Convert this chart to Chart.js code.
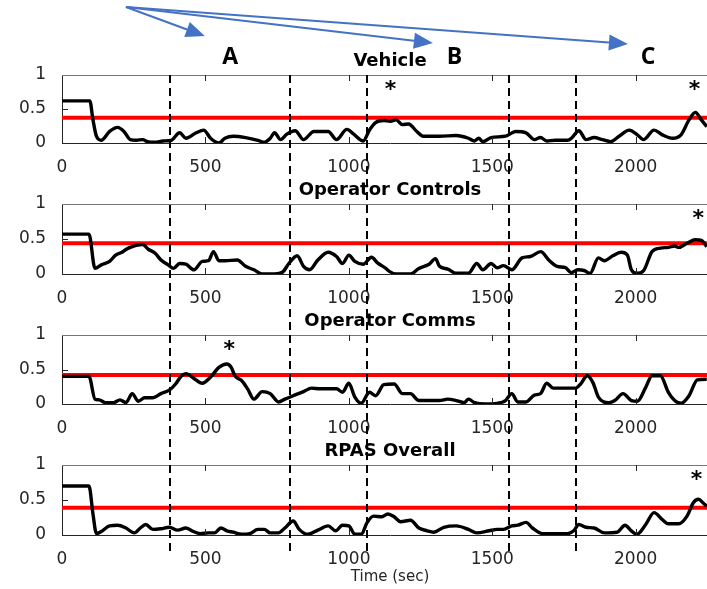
<!DOCTYPE html>
<html>
<head>
<meta charset="utf-8">
<script src="https://cdn.jsdelivr.net/npm/chart.js@4.4.1/dist/chart.umd.min.js"></script>
<style>
html, body { margin: 0; padding: 0; background: #fff; overflow: hidden; }
#fig { position: relative; width: 707px; height: 589px; overflow: hidden; }
#fig canvas { position: absolute; left: 0; }
</style>
</head>
<body>
<div id="fig">
  <canvas id="c0"></canvas>
  <canvas id="c1"></canvas>
  <canvas id="c2"></canvas>
  <canvas id="c3"></canvas>
</div>
<script>
// ---- data ----
const titles = ["Vehicle", "Operator Controls", "Operator Comms", "RPAS Overall"];

const vehicleTime = [0, 97, 108, 120, 137, 166, 194, 216, 238, 259, 281, 298, 324, 353, 381, 410, 432, 468, 494, 518, 547, 568, 597, 640, 683, 705, 726, 741, 762, 784, 813, 842, 878, 928, 957, 993, 1017, 1050, 1072, 1093, 1122, 1144, 1165, 1187, 1208, 1237, 1259, 1316, 1374, 1417, 1438, 1453, 1467, 1496, 1546, 1582, 1618, 1647, 1668, 1690, 1719, 1762, 1776, 1802, 1827, 1855, 1884, 1913, 1942, 1978, 2006, 2028, 2064, 2093, 2129, 2158, 2186, 2208, 2229, 2248];
const vehicleLevel = [0.62, 0.62, 0.34, 0.10, 0.04, 0.17, 0.23, 0.17, 0.05, 0.04, 0.05, 0.02, 0.01, 0.03, 0.04, 0.15, 0.07, 0.15, 0.19, 0.07, 0.0, 0.07, 0.10, 0.08, 0.04, 0.01, 0.07, 0.15, 0.05, 0.13, 0.18, 0.05, 0.17, 0.17, 0.05, 0.20, 0.13, 0.03, 0.19, 0.30, 0.33, 0.32, 0.34, 0.27, 0.28, 0.17, 0.10, 0.10, 0.11, 0.07, 0.03, 0.07, 0.02, 0.08, 0.10, 0.17, 0.15, 0.05, 0.08, 0.03, 0.04, 0.04, 0.07, 0.18, 0.05, 0.08, 0.05, 0.02, 0.10, 0.19, 0.12, 0.05, 0.19, 0.12, 0.07, 0.12, 0.34, 0.45, 0.34, 0.24];

const controlsTime = [0, 94, 115, 137, 166, 187, 209, 223, 238, 259, 281, 302, 324, 345, 370, 389, 410, 432, 460, 489, 511, 528, 547, 568, 611, 640, 669, 698, 741, 770, 791, 820, 842, 863, 892, 928, 957, 978, 1000, 1021, 1050, 1079, 1100, 1129, 1144, 1165, 1215, 1244, 1280, 1302, 1316, 1345, 1374, 1417, 1446, 1467, 1496, 1517, 1539, 1568, 1604, 1633, 1669, 1697, 1726, 1755, 1776, 1798, 1820, 1841, 1870, 1891, 1920, 1949, 1971, 1985, 2004, 2028, 2057, 2086, 2114, 2136, 2150, 2179, 2208, 2229, 2248];
const controlsLevel = [0.57, 0.57, 0.08, 0.13, 0.18, 0.27, 0.31, 0.35, 0.38, 0.41, 0.42, 0.35, 0.30, 0.20, 0.13, 0.08, 0.15, 0.14, 0.06, 0.18, 0.19, 0.32, 0.19, 0.19, 0.20, 0.11, 0.06, 0.0, 0.0, 0.03, 0.15, 0.26, 0.11, 0.06, 0.20, 0.31, 0.25, 0.15, 0.27, 0.18, 0.14, 0.24, 0.16, 0.08, 0.03, 0.0, 0.0, 0.08, 0.14, 0.22, 0.11, 0.07, 0.01, 0.01, 0.15, 0.06, 0.15, 0.09, 0.12, 0.06, 0.23, 0.25, 0.32, 0.20, 0.11, 0.09, 0.02, 0.06, 0.05, 0.01, 0.23, 0.19, 0.26, 0.31, 0.27, 0.06, 0.01, 0.05, 0.32, 0.37, 0.38, 0.40, 0.38, 0.44, 0.49, 0.48, 0.39];

const commsTime = [0, 94, 115, 130, 151, 180, 202, 223, 245, 266, 288, 317, 345, 374, 396, 417, 432, 460, 489, 518, 547, 575, 590, 604, 626, 647, 669, 698, 726, 755, 777, 806, 842, 870, 899, 957, 978, 1000, 1021, 1043, 1072, 1093, 1122, 1158, 1187, 1215, 1244, 1316, 1345, 1374, 1402, 1417, 1438, 1474, 1517, 1546, 1568, 1589, 1618, 1647, 1668, 1690, 1712, 1791, 1808, 1831, 1851, 1870, 1906, 1927, 1956, 1985, 2006, 2035, 2057, 2086, 2114, 2136, 2158, 2186, 2215, 2248];
const commsLevel = [0.40, 0.40, 0.07, 0.06, 0.02, 0.02, 0.06, 0.02, 0.15, 0.04, 0.09, 0.09, 0.15, 0.20, 0.29, 0.41, 0.44, 0.37, 0.30, 0.39, 0.53, 0.58, 0.53, 0.40, 0.34, 0.22, 0.07, 0.18, 0.15, 0.03, 0.07, 0.12, 0.18, 0.23, 0.22, 0.22, 0.17, 0.30, 0.10, 0.01, 0.17, 0.12, 0.28, 0.29, 0.15, 0.15, 0.05, 0.05, 0.07, 0.05, 0.02, 0.07, 0.02, 0.0, 0.01, 0.05, 0.15, 0.03, 0.03, 0.13, 0.15, 0.30, 0.23, 0.23, 0.29, 0.41, 0.31, 0.10, 0.02, 0.05, 0.15, 0.05, 0.04, 0.24, 0.41, 0.41, 0.17, 0.05, 0.01, 0.12, 0.35, 0.36];

const overallTime = [0, 94, 108, 120, 137, 166, 194, 223, 252, 273, 292, 317, 345, 374, 403, 432, 453, 482, 511, 532, 554, 575, 597, 626, 655, 683, 705, 726, 755, 777, 806, 827, 856, 892, 928, 954, 978, 1000, 1021, 1043, 1064, 1086, 1115, 1136, 1158, 1180, 1215, 1244, 1273, 1295, 1331, 1374, 1417, 1446, 1489, 1517, 1539, 1568, 1589, 1618, 1640, 1676, 1719, 1762, 1784, 1802, 1827, 1855, 1891, 1935, 1963, 1985, 2004, 2035, 2064, 2093, 2114, 2150, 2179, 2201, 2219, 2237, 2248];
const overallLevel = [0.70, 0.70, 0.30, 0.02, 0.05, 0.13, 0.14, 0.10, 0.03, 0.10, 0.15, 0.08, 0.09, 0.11, 0.07, 0.10, 0.06, 0.02, 0.03, 0.03, 0.10, 0.06, 0.04, 0.01, 0.02, 0.08, 0.08, 0.03, 0.03, 0.10, 0.20, 0.08, 0.01, 0.07, 0.13, 0.06, 0.14, 0.13, 0.01, 0.01, 0.18, 0.27, 0.26, 0.30, 0.26, 0.19, 0.21, 0.10, 0.06, 0.04, 0.11, 0.13, 0.08, 0.03, 0.06, 0.08, 0.08, 0.13, 0.14, 0.18, 0.10, 0.02, 0.02, 0.02, 0.06, 0.15, 0.11, 0.10, 0.03, 0.04, 0.14, 0.06, 0.01, 0.15, 0.32, 0.22, 0.16, 0.16, 0.27, 0.46, 0.51, 0.45, 0.41];

const thresholds = [0.37, 0.44, 0.42, 0.39];
const eventTimes = [375, 794, 1064, 1557, 1791];
const starTimes = [[1145, 2205], [2218], [583], [2212]];
const starLevel = 0.86;
const xTicks = [0, 500, 1000, 1500, 2000];
const yTicks = [0, 0.5, 1];
const xMax = 2287;
const phaseLetters = ["A", "B", "C"];
const phaseTimes = [586, 1368, 2043];
const arrowFromTime = 223;
const arrowToTimes = [498, 1293, 1973];

const series = [
  { time: vehicleTime, level: vehicleLevel },
  { time: controlsTime, level: controlsLevel },
  { time: commsTime, level: commsLevel },
  { time: overallTime, level: overallLevel }
];

// ---- layout of the four stacked panels ----
const bands = [
  { top: 0,   height: 175, padTop: 75, axisH: 32 },
  { top: 175, height: 130, padTop: 29, axisH: 31 },
  { top: 305, height: 131, padTop: 30, axisH: 32 },
  { top: 436, height: 153, padTop: 29, axisH: 54 }
];
const axisColor = "#262626";
const dashStartY = 75;
const dashEndY = 555;

Chart.defaults.font.family = "'DejaVu Sans', sans-serif";
Chart.defaults.color = axisColor;

function centerText(ctx, text, x, y) {
  const m = ctx.measureText("H");
  ctx.textBaseline = "alphabetic";
  ctx.fillText(text, x, y + m.actualBoundingBoxAscent / 2);
}

function drawArrow(ctx, x0, y0, x1, y1) {
  const a = Math.atan2(y1 - y0, x1 - x0);
  const len = 19, half = 8;
  const bx = x1 - len * Math.cos(a), by = y1 - len * Math.sin(a);
  ctx.beginPath();
  ctx.moveTo(x0, y0);
  ctx.lineTo(bx, by);
  ctx.stroke();
  ctx.beginPath();
  ctx.moveTo(x1, y1);
  ctx.lineTo(bx + half * Math.sin(a), by - half * Math.cos(a));
  ctx.lineTo(bx - half * Math.sin(a), by + half * Math.cos(a));
  ctx.closePath();
  ctx.fill();
}

function panelPlugin(i) {
  const b = bands[i];
  return {
    id: "panel" + i,
    afterDatasetsDraw(chart) {
      const { ctx, chartArea: area, scales: { x, y } } = chart;
      ctx.save();
      // top box edge
      ctx.strokeStyle = "#777";
      ctx.lineWidth = 1;
      ctx.beginPath();
      ctx.moveTo(area.left, area.top + 0.5);
      ctx.lineTo(area.right, area.top + 0.5);
      ctx.stroke();
      // inward ticks (matlab style)
      ctx.strokeStyle = axisColor;
      ctx.beginPath();
      x.ticks.forEach(t => {
        if (t.value <= 0) return;
        const px = Math.round(x.getPixelForValue(t.value)) + 0.5;
        ctx.moveTo(px, area.bottom); ctx.lineTo(px, area.bottom - 6);
        ctx.moveTo(px, area.top); ctx.lineTo(px, area.top + 6);
      });
      y.ticks.forEach(t => {
        if (t.value <= 0 || t.value >= 1) return;
        const py = Math.round(y.getPixelForValue(t.value)) + 0.5;
        ctx.moveTo(area.left, py); ctx.lineTo(area.left + 6, py);
      });
      ctx.stroke();

      // event dashed lines running through all panels
      const y0 = i === 0 ? area.top : 0;
      const y1 = i === 3 ? dashEndY - b.top : chart.height;
      ctx.setLineDash([8, 5]);
      ctx.lineDashOffset = b.top + y0 - dashStartY;
      ctx.lineWidth = 2;
      ctx.strokeStyle = "#000";
      eventTimes.forEach(t => {
        const px = Math.round(x.getPixelForValue(t));
        ctx.beginPath();
        ctx.moveTo(px, y0);
        ctx.lineTo(px, y1);
        ctx.stroke();
      });
      ctx.setLineDash([]);

      // panel title
      ctx.fillStyle = "#000";
      ctx.font = "bold 18px 'DejaVu Sans'";
      ctx.textAlign = "center";
      centerText(ctx, titles[i], (area.left + area.right) / 2, area.top - 15.5);

      // asterisks
      ctx.font = "bold 22px 'DejaVu Sans'";
      starTimes[i].forEach(t => {
        const m = ctx.measureText("*");
        const cy = y.getPixelForValue(starLevel);
        ctx.textBaseline = "alphabetic";
        ctx.fillText("*", x.getPixelForValue(t), cy + (m.actualBoundingBoxAscent - m.actualBoundingBoxDescent) / 2);
      });

      if (i === 0) {
        // phase letters and arrows
        ctx.font = "bold 23px 'Open Sans'";
        phaseLetters.forEach((s, k) => centerText(ctx, s, x.getPixelForValue(phaseTimes[k]), 55.5));
        ctx.strokeStyle = "#4472C4";
        ctx.fillStyle = "#4472C4";
        ctx.lineWidth = 2;
        const ax = x.getPixelForValue(arrowFromTime);
        const tipY = [36, 43, 44];
        arrowToTimes.forEach((t, k) => drawArrow(ctx, ax, 7, x.getPixelForValue(t), tipY[k]));
      }
      ctx.restore();
    }
  };
}

function makeChart(i) {
  const b = bands[i];
  const canvas = document.getElementById("c" + i);
  canvas.width = 718;
  canvas.height = b.height;
  canvas.style.top = b.top + "px";
  const s = series[i];
  return new Chart(canvas, {
    type: "line",
    data: {
      datasets: [
        {
          data: s.time.map((t, k) => ({ x: t, y: s.level[k] })),
          borderColor: "#000",
          borderWidth: 3.4,
          pointRadius: 0,
          cubicInterpolationMode: "monotone"
        },
        {
          data: [{ x: 0, y: thresholds[i] }, { x: xMax, y: thresholds[i] }],
          borderColor: "#ff0000",
          borderWidth: 4,
          pointRadius: 0
        }
      ]
    },
    options: {
      responsive: false,
      animation: false,
      events: [],
      layout: { padding: { top: b.padTop, left: 0, right: 0, bottom: 0 } },
      plugins: { legend: { display: false }, tooltip: { enabled: false } },
      scales: {
        x: {
          type: "linear",
          min: 0,
          max: xMax,
          grid: { display: false },
          border: { display: true, color: axisColor, width: 1 },
          afterBuildTicks: sc => { sc.ticks = xTicks.map(v => ({ value: v })); },
          afterFit: sc => { sc.height = b.axisH; },
          ticks: { padding: 6, font: { size: 17 }, color: axisColor, maxRotation: 0, callback: v => String(v) },
          title: i === 3
            ? { display: true, text: "Time (sec)", font: { size: 15 }, color: axisColor, padding: { top: 0, bottom: 3 } }
            : { display: false }
        },
        y: {
          min: 0,
          max: 1,
          grid: { display: false },
          border: { display: true, color: axisColor, width: 1 },
          afterBuildTicks: sc => { sc.ticks = yTicks.map(v => ({ value: v })); },
          afterFit: sc => { sc.width = 62; },
          ticks: { padding: 8, font: { size: 17 }, color: axisColor, callback: v => String(v) }
        }
      }
    },
    plugins: [panelPlugin(i)]
  });
}

for (let i = 0; i < 4; i++) makeChart(i);
</script>
</body>
</html>
